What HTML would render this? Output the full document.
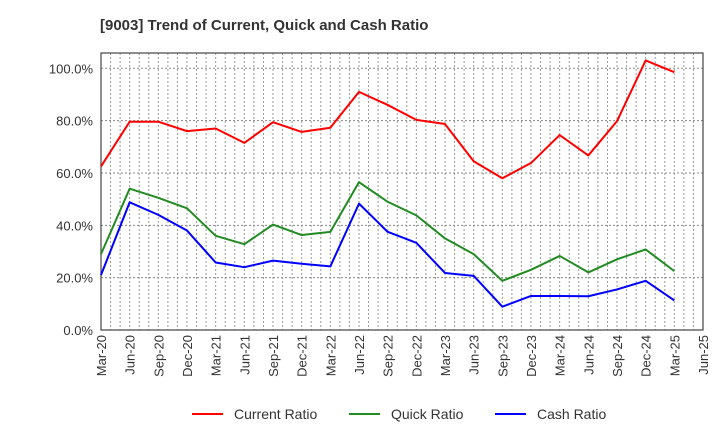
<!DOCTYPE html>
<html><head><meta charset="utf-8"><style>
body{margin:0;background:#fff;font-family:"Liberation Sans",sans-serif;}
svg text{font-family:"Liberation Sans",sans-serif;}
</style></head><body>
<svg id="chart" width="720" height="440" xmlns="http://www.w3.org/2000/svg">
<text x="100" y="30" font-size="15" font-weight="bold" fill="#333">[9003]  Trend of Current, Quick and Cash Ratio</text>
<g id="grid"></g><g id="axes"></g><g id="series"></g>
<g id="legend"></g>
</svg>
<script>
const categories=["Mar-20","Jun-20","Sep-20","Dec-20","Mar-21","Jun-21","Sep-21","Dec-21","Mar-22","Jun-22","Sep-22","Dec-22","Mar-23","Jun-23","Sep-23","Dec-23","Mar-24","Jun-24","Sep-24","Dec-24","Mar-25","Jun-25"];
const currentRatio=[62.5,79.6,79.6,76,77,71.5,79.4,75.7,77.3,91,86,80.3,78.7,64.5,58,63.8,74.5,66.7,79.8,103,98.5];
const quickRatio=[29,54,50.5,46.5,36,32.8,40.3,36.3,37.5,56.5,49,43.8,35,29,18.8,23,28.3,22,27,30.8,22.5];
const cashRatio=[21,48.8,44,38,25.8,24,26.5,25.3,24.3,48.3,37.5,33.3,21.8,20.7,8.9,13,13,12.9,15.5,18.8,11.3];
const yTicks=[0,20,40,60,80,100];
const seriesNames=["Current Ratio","Quick Ratio","Cash Ratio"];
const seriesColors=["#ff0000","#228b22","#0000ff"];

const L=101,R=703,T=53,B=330,YMAX=105.85;
const NS="http://www.w3.org/2000/svg";
const step=(R-L)/(categories.length-1);
const xs=i=>L+i*step;
const ys=v=>B-(v/YMAX)*(B-T);
function mk(tag,attrs,parent){const e=document.createElementNS(NS,tag);for(const k in attrs)e.setAttribute(k,attrs[k]);parent.appendChild(e);return e;}
const grid=document.getElementById('grid'),axes=document.getElementById('axes'),ser=document.getElementById('series'),leg=document.getElementById('legend');
for(let m=1;m<(categories.length-1)*3;m++){
  const x=L+m*step/3;
  const l=mk('line',{x1:x,x2:x,y1:T,y2:B,stroke:'#999','stroke-dasharray':'2,2','stroke-width':1},grid);
  
  
}
yTicks.forEach(v=>{
  const y=ys(v);
  if(v>0){const l=mk('line',{x1:L,x2:R,y1:y,y2:y,stroke:'#888','stroke-dasharray':'2,2','stroke-width':1},grid);
  
  }
  const t=mk('text',{x:L-8,y:y+5,'text-anchor':'end','font-size':13,fill:'#333'},axes);
  t.textContent=v.toFixed(1)+'%';
  
  
});
categories.forEach((c,i)=>{
  const x=xs(i);
  const t=mk('text',{x:0,y:0,'text-anchor':'end','font-size':13,fill:'#333',transform:`translate(${x+5},${B+5}) rotate(-90)`},axes);
  t.textContent=c;
  
  
});
const frame=mk('rect',{x:L,y:T,width:R-L,height:B-T,fill:'none',stroke:'#444','stroke-width':1.2},axes);


[currentRatio,quickRatio,cashRatio].forEach((arr,k)=>{
  const p=mk('polyline',{points:arr.map((v,i)=>xs(i)+','+ys(v)).join(' '),fill:'none',stroke:seriesColors[k],'stroke-width':2,'stroke-linejoin':'round'},ser);
  
  
});
const lx=[192,349,495];
seriesNames.forEach((n,k)=>{
  const l=mk('line',{x1:lx[k],x2:lx[k]+31,y1:414,y2:414,stroke:seriesColors[k],'stroke-width':2},leg);
  
  
  const t=mk('text',{x:lx[k]+42,y:419,'font-size':14,fill:'#333'},leg);
  t.textContent=n;
  
  
});
</script>
</body></html>
